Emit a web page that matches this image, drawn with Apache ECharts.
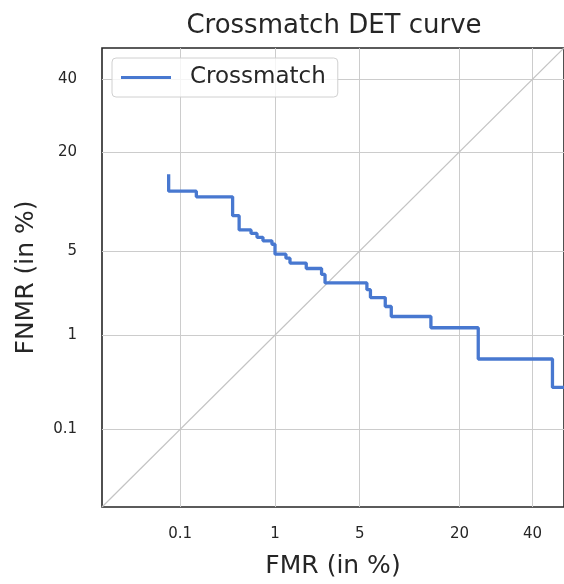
<!DOCTYPE html>
<html>
<head>
<meta charset="utf-8">
<script src="https://cdn.jsdelivr.net/npm/echarts@6/dist/echarts.min.js"></script>
<style>
  html, body { margin: 0; padding: 0; background: #fff; }
  #chart { width: 564px; height: 584px; }
</style>
</head>
<body>
<div id="chart"></div>
<script>
// DET curve, both axes on a normal-deviate (probit) scale, values in %
const tickValues = [0.1, 1, 5, 20, 40];
const axisRange = [0.01, 50];

// corner points of the step curve
const fmr  = [0.073, 0.073, 0.154, 0.154, 0.382, 0.382, 0.446, 0.446, 0.588, 0.588, 0.673, 0.673,
              0.769, 0.769, 0.936, 0.936, 1.0, 1.0, 1.26, 1.26, 1.37, 1.37, 1.90, 1.90, 2.55, 2.55,
              2.72, 2.72, 5.63, 5.63, 5.96, 5.96, 7.51, 7.51, 8.22, 8.22, 14.2, 14.2, 24.5, 24.5,
              46.3, 46.3, 50];
const fnmr = [15.3, 12.3, 12.3, 11.4, 11.4, 8.72, 8.72, 7.02, 7.02, 6.65, 6.65, 6.25,
              6.25, 5.91, 5.91, 5.59, 5.59, 4.74, 4.74, 4.43, 4.43, 4.07, 4.07, 3.70, 3.70, 3.33,
              3.33, 2.85, 2.85, 2.51, 2.51, 2.16, 2.16, 1.81, 1.81, 1.48, 1.48, 1.17, 1.17, 0.587,
              0.587, 0.298, 0.298];

// inverse normal CDF (Acklam)
function ppf(p) {
  const a = [-39.69683028665376, 220.9460984245205, -275.9285104469687, 138.3577518672690, -30.66479806614716, 2.506628277459239];
  const b = [-54.47609879822406, 161.5858368580409, -155.6989798598866, 66.80131188771972, -13.28068155288572];
  const c = [-0.007784894002430293, -0.3223964580411365, -2.400758277161838, -2.549732539343734, 4.374664141464968, 2.938163982698783];
  const d = [0.007784695709041462, 0.3224671290700398, 2.445134137142996, 3.754408661907416];
  const pl = 0.02425;
  let q, r;
  if (p < pl) {
    q = Math.sqrt(-2 * Math.log(p));
    return (((((c[0]*q+c[1])*q+c[2])*q+c[3])*q+c[4])*q+c[5]) / ((((d[0]*q+d[1])*q+d[2])*q+d[3])*q+1);
  }
  if (p <= 1 - pl) {
    q = p - 0.5; r = q * q;
    return (((((a[0]*r+a[1])*r+a[2])*r+a[3])*r+a[4])*r+a[5])*q / (((((b[0]*r+b[1])*r+b[2])*r+b[3])*r+b[4])*r+1);
  }
  q = Math.sqrt(-2 * Math.log(1 - p));
  return -(((((c[0]*q+c[1])*q+c[2])*q+c[3])*q+c[4])*q+c[5]) / ((((d[0]*q+d[1])*q+d[2])*q+d[3])*q+1);
}
const z = v => ppf(v / 100);

const tickZ = tickValues.map(z);
const tickLabel = value => {
  const i = tickZ.findIndex(t => Math.abs(t - value) < 1e-6);
  return i >= 0 ? String(tickValues[i]) : '';
};

const textColor = '#262626';
const font = 'DejaVu Sans';

function makeAxis(name, isX) {
  return {
    type: 'value',
    min: z(axisRange[0]),
    max: z(axisRange[1]),
    name: name,
    nameLocation: 'middle',
    nameGap: isX ? 47 : 63,
    nameTextStyle: { fontFamily: font, fontSize: 25, color: textColor },
    axisLine: { show: false },
    axisTick: { show: false, customValues: tickZ },
    axisLabel: {
      customValues: tickZ,
      formatter: tickLabel,
      fontFamily: font,
      fontSize: 15,
      color: textColor,
      margin: isX ? 20 : 25
    },
    splitLine: { show: true, lineStyle: { color: '#cccccc', width: 1 } }
  };
}

const chart = echarts.init(document.getElementById('chart'), null, { renderer: 'canvas' });
chart.setOption({
  animation: false,
  title: {
    text: 'Crossmatch DET curve',
    left: 329,
    textAlign: 'center',
    top: 8,
    textStyle: { fontFamily: font, fontSize: 26, fontWeight: 'normal', color: textColor }
  },
  legend: {
    data: ['Crossmatch'],
    left: 112,
    top: 58,
    orient: 'vertical',
    icon: 'rect',
    itemWidth: 50,
    itemHeight: 3,
    padding: [8, 12, 8, 9],
    borderColor: '#d0d0d0',
    borderWidth: 1,
    borderRadius: 4,
    backgroundColor: 'rgba(255,255,255,0.8)',
    textStyle: { fontFamily: font, fontSize: 23, color: textColor, padding: [0, 0, 0, 14] }
  },
  grid: {
    left: 102, top: 48, width: 465, height: 465,
    show: true, borderColor: '#262626', borderWidth: 1.6, backgroundColor: 'transparent'
  },
  xAxis: makeAxis('FMR (in %)', true),
  yAxis: makeAxis('FNMR (in %)', false),
  series: [
    {
      name: 'diagonal',
      type: 'line',
      data: axisRange.map(v => [z(v), z(v)]),
      symbol: 'none',
      silent: true,
      lineStyle: { color: '#c4c4c4', width: 1.2 },
      z: 1
    },
    {
      name: 'Crossmatch',
      type: 'line',
      data: fmr.map((v, i) => [z(v), z(fnmr[i])]),
      symbol: 'none',
      clip: true,
      lineStyle: { color: '#4878d0', width: 3.3 },
      itemStyle: { color: '#4878d0' },
      z: 3
    }
  ]
});
window.addEventListener('resize', () => chart.resize());
</script>
</body>
</html>
